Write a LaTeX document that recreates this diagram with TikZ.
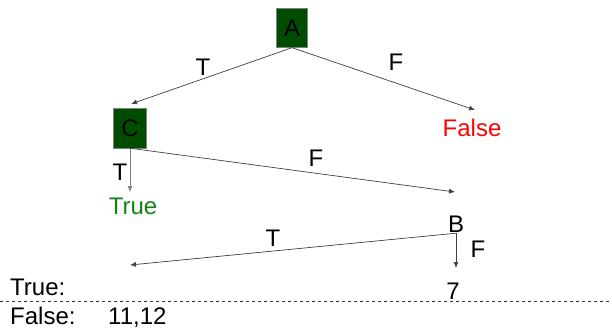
\documentclass[tikz,border=0pt]{standalone}
\usepackage{fontspec}
\setmainfont{Liberation Sans}
\usetikzlibrary{arrows.meta}

\definecolor{boxgreen}{RGB}{0,77,0}
\definecolor{truegreen}{RGB}{20,130,20}

\tikzset{
  testbox/.style={draw=gray, fill=boxgreen, minimum width=31pt, minimum height=39pt, inner sep=0pt},
  lbl/.style={anchor=base, inner sep=1pt},
  edge/.style={draw=black!75, line width=0.7pt, -{Latex[length=6pt,width=5pt]}}
}

\begin{document}
\begin{tikzpicture}[x=1pt, y=-1pt, font=\fontsize{24}{28}\selectfont]
\useasboundingbox (0,0) rectangle (612,330);

% decision nodes
\node[testbox] (A) at (292,28) {A};
\node[testbox, minimum width=33pt, minimum height=40pt] (C) at (130,128) {C};
\node[lbl] (B) at (456,232) {B};

% leaves
\node[lbl, text=red] (false) at (472,136) {False};
\node[lbl, text=truegreen] (true) at (133,214) {True};
\node[lbl] (seven) at (453,299) {7};

% free arrow ends
\coordinate (toC) at (131,104);
\coordinate (toF) at (475,110);
\coordinate (toTrue) at (130,192);
\coordinate (toB) at (455,192);
\coordinate (toL) at (130,265);
\coordinate (to7) at (456,268);

\draw[edge] (A.south) -- (toC);
\draw[edge] (A.south) -- (toF);
\draw[edge, draw=gray] (C.south) -- (toTrue);
\draw[edge] (C.south) -- (toB);
\draw[edge] (B.south) -- (toL);
\draw[edge] (B.south) -- (to7);

% branch labels
\node[lbl] (t1) at (203,75) {T};
\node[lbl] (f1) at (396,70) {F};
\node[lbl] (t2) at (120,180) {T};
\node[lbl] (f2) at (316,166) {F};
\node[lbl] (t3) at (273,246) {T};
\node[lbl] (f3) at (478,257) {F};

% result table
\node[lbl, anchor=base west] (trueRow) at (9,295) {True:};
\draw[dashed, black!80, line width=0.6pt] (0,301) -- (612,301);
\node[lbl, anchor=base west] (falseRow) at (9,324) {False:};
\node[lbl, anchor=base west] (falseVals) at (107,324) {11,12};

\end{tikzpicture}
\end{document}
